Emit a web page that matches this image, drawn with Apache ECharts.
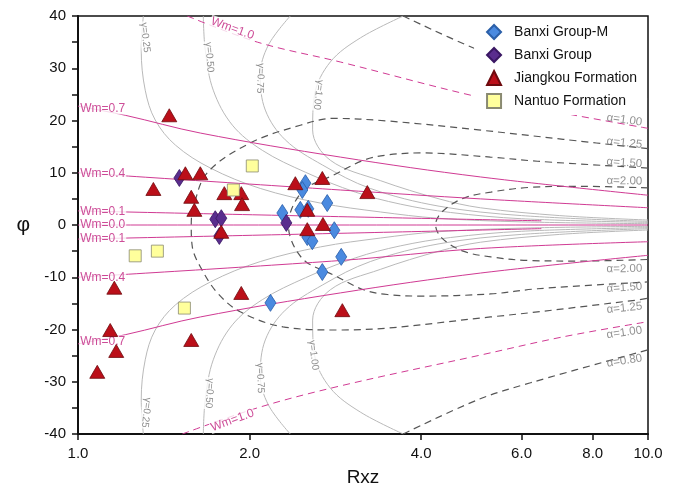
<!DOCTYPE html>
<html><head><meta charset="utf-8">
<script src="https://cdn.jsdelivr.net/npm/echarts@6/dist/echarts.min.js"></script>
<style>html,body{margin:0;padding:0;background:#fff}#c{width:678px;height:492px}</style>
</head><body><div id="c"></div>
<script>
// ---------- tick labels ----------
const xTicks = [1, 2, 4, 6, 8, 10];
const yLabels = [-40, -30, -20, -10, 0, 10, 20, 30, 40];
const yRange = [-40, 40];

// ---------- sample data [Rxz, phi] ----------
const banxiM = [[2.506,8.0],[2.475,6.7],[2.737,4.2],[2.455,2.9],[2.535,3.1],[2.283,2.3],[2.816,-1.0],[2.525,-2.3],[2.577,-3.1],[2.896,-6.1],[2.683,-9.0],[2.176,-14.9]];
const banxi = [[1.506,9.0],[1.741,1.1],[1.784,1.3],[1.770,-2.1],[2.32,0.4]];
const jiangkou = [[1.446,21.0],[1.543,9.9],[1.639,9.9],[1.356,6.9],[1.58,5.4],[1.60,2.9],[1.806,6.1],[1.934,6.1],[1.94,4.0],[1.784,-1.3],[2.406,8.0],[2.683,9.0],[2.525,2.9],[2.525,-0.8],[2.69,0.2],[3.218,6.3],[1.158,-12.0],[1.139,-20.1],[1.167,-24.1],[1.081,-28.1],[1.58,-22.0],[1.934,-13.0],[2.909,-16.3]];
const nantuo = [[2.022,11.3],[1.873,6.7],[1.26,-5.9],[1.378,-5.0],[1.537,-15.9]];

// ---------- reference curves ----------
const wm07Top = [[1,22.75],[1.21,21.0],[1.639,17.6],[2.885,13.0],[5.08,9.2],[10,5.7]];
const wm07Bot = [[1,-22.75],[1.21,-21.0],[1.639,-17.6],[2.885,-13.0],[5.08,-9.2],[10,-5.8]];
const wm04Top = [[1,10.0],[2.885,6.7],[5.08,5.0],[10,3.3]];
const wm04Bot = [[1,-10.0],[2.885,-6.8],[5.08,-4.5],[10,-3.2]];
const wm01Top = [[1,2.7],[2.6,1.7],[6.5,0.8]];
const wm00 = [[1,0],[10,0]];
const wm01Bot = [[1,-2.7],[2.6,-1.7],[6.5,-0.7]];
const wm10Top = [[1.555,40],[2.064,35.0],[2.885,31.2],[5.04,24.5],[7.1,21.4],[10,18.5]];
const wm10Bot = [[1.524,-40],[2.064,-35.0],[2.885,-30.8],[5.08,-24.9],[7.1,-21.4],[10,-18.5]];

const a080Top = [[3.72,40],[5.04,33.5],[6.22,30.3],[10,24.1]];
const a080Bot = [[3.72,-40],[5.04,-33.4],[6.22,-30.2],[10,-23.9]];
const a125 = [[10,14.6],[7.1,16.4],[5.04,18.2],[3.5,19.9],[2.8,20.4],[2.455,19.1],[2.006,15.7],[1.686,10.0],[1.594,3.4],[1.58,0],[1.587,-4.2],[1.639,-8.0],[1.756,-13.0],[1.926,-16.6],[2.29,-19.5],[2.885,-20.1],[5.29,-17.6],[9.67,-14.3],[10,-14.0]];
const a150 = [[10,10.9],[6.4,12.2],[5.29,13.0],[4.0,13.8],[3.49,13.4],[3.17,12.4],[2.8,9.5],[2.53,7.3],[2.43,5.3],[2.36,2.5],[2.34,0],[2.36,-2.5],[2.43,-5.3],[2.53,-7.3],[2.8,-9.5],[3.17,-12.4],[3.49,-13.3],[4.0,-13.6],[5.29,-13.2],[6.4,-12.2],[10,-10.9]];
const a200 = [[10,7.1],[7.6,7.4],[6.2,7.2],[5.3,6.3],[4.74,5.1],[4.35,2.5],[4.24,0],[4.35,-2.5],[4.74,-5.0],[5.3,-6.1],[6.2,-6.8],[7.6,-6.9],[10,-6.6]];

const g025Top = [[1.302,40],[1.291,33.5],[1.312,25.8],[1.366,20.1],[1.482,15.3],[1.707,10.9],[2.088,7.0],[2.661,4.2],[3.391,2.5],[4.27,1.3],[6.0,0.6],[10,0.25]];
const g050Top = [[1.659,40],[1.672,33.5],[1.727,25.8],[1.866,19.1],[2.105,14.3],[2.506,10.1],[3.065,6.3],[3.676,4.0],[4.5,2.4],[6.0,1.2],[10,0.5]];
const g075Top = [[2.357,40],[2.157,34.4],[2.088,28.7],[2.131,22.0],[2.31,16.3],[2.683,11.5],[3.257,7.0],[4.3,3.6],[6.0,1.8],[10,0.7]];
const g100Top = [[3.721,40],[3.128,35.8],[2.771,31.2],[2.60,24.9],[2.58,18.2],[2.771,12.4],[3.391,8.5],[4.3,5.0],[5.08,3.3],[7.0,1.8],[10,0.95]];
const g025Bot = [[1.302,-40],[1.291,-33.5],[1.312,-25.8],[1.366,-20.1],[1.482,-15.3],[1.707,-10.9],[2.088,-7.0],[2.661,-4.2],[3.391,-2.5],[4.27,-1.3],[6.0,-0.6],[10,-0.25]];
const g050Bot = [[1.659,-40],[1.672,-33.5],[1.727,-25.8],[1.866,-19.1],[2.105,-14.3],[2.506,-10.1],[3.065,-6.3],[3.676,-4.0],[4.5,-2.4],[6.0,-1.2],[10,-0.5]];
const g075Bot = [[2.357,-40],[2.157,-34.4],[2.088,-28.7],[2.131,-22.0],[2.31,-16.3],[2.683,-11.5],[3.257,-7.0],[4.3,-3.6],[6.0,-1.8],[10,-0.7]];
const g100Bot = [[3.721,-40],[3.128,-35.8],[2.771,-31.2],[2.60,-24.9],[2.58,-18.2],[2.771,-12.4],[3.391,-8.5],[4.3,-5.0],[5.08,-3.3],[7.0,-1.8],[10,-0.95]];

// ---------- annotation texts ----------
const wmLabels = [
  ['Wm=0.7',[1.105,22.3]],['Wm=0.4',[1.105,9.8]],['Wm=0.1',[1.105,2.6]],['Wm=0.0',[1.105,0]],
  ['Wm=0.1',[1.105,-2.6]],['Wm=0.4',[1.105,-10.0]],['Wm=0.7',[1.105,-22.3]]
];
const wm10Labels = [['Wm=1.0',[1.866,37.6],-20],['Wm=1.0',[1.866,-37.4],20]];
const gammaLabels = [
  ['γ=0.25',[1.312,35.9],-84],['γ=0.50',[1.70,32.1],-86],['γ=0.75',[2.088,28.1],-92],['γ=1.00',[2.64,24.9],-97],
  ['γ=0.25',[1.317,-35.9],-96],['γ=0.50',[1.70,-32.2],-94],['γ=0.75',[2.088,-29.3],-88],['γ=1.00',[2.59,-24.9],-83]
];
const alphaLabels = [
  ['α=1.00',[9.09,20.1],-8],['α=1.25',[9.09,15.7],-6],['α=1.50',[9.09,11.9],-4],['α=2.00',[9.09,8.4],-1],
  ['α=2.00',[9.09,-8.4],1],['α=1.50',[9.09,-12.0],4],['α=1.25',[9.09,-15.9],6],['α=1.00',[9.09,-20.6],8],['α=0.80',[9.09,-26.0],9]
];

const FONT = '"Liberation Sans", Arial, sans-serif';
const PINK = '#d03a93';
const GRAY = '#b9b9b9';
const DASH = '#555555';

function curve(data, color, width, dash, z) {
  return {type:'line', data, smooth:0.35, showSymbol:false, symbol:'none', silent:true, z,
    lineStyle:{color, width, type: dash ? [7,5] : 'solid'}, clip:true};
}
function textSeries(items, style, z) {
  return {type:'scatter', silent:true, z, symbolSize:0, clip:false,
    data: items.map(it => ({value: it[1], label: Object.assign({show:true, position:'inside', formatter: it[0], rotate: it[2] || 0}, style)}))};
}

const series = [];
[g025Top,g050Top,g075Top,g100Top,g025Bot,g050Bot,g075Bot,g100Bot].forEach(d => series.push(curve(d, GRAY, 1, false, 1)));
[a080Top,a080Bot,a125,a150,a200].forEach(d => series.push(curve(d, DASH, 1.2, true, 2)));
[wm10Top,wm10Bot].forEach(d => series.push(curve(d, PINK, 1, true, 3)));
[wm07Top,wm04Top,wm01Top,wm00,wm01Bot,wm04Bot,wm07Bot].forEach(d => series.push(curve(d, PINK, 1, false, 3)));

series.push(textSeries(gammaLabels, {color:'#6f6f6f', fontSize:10, fontFamily:FONT, backgroundColor:'#fff', padding:[0,1]}, 4));
series.push(textSeries(alphaLabels, {color:'#777', fontSize:11.5, fontFamily:FONT}, 4));
series.push(textSeries(wmLabels, {color:'#c0207e', fontSize:12, fontFamily:FONT, backgroundColor:'#fff', padding:[0,1]}, 4));
series.push(textSeries(wm10Labels, {color:'#c0207e', fontSize:12, fontFamily:FONT, backgroundColor:'#fff', padding:[0,1]}, 4));

const markBorder = {borderWidth:0.8, opacity:1};
series.push({type:'scatter', name:'Banxi Group-M', data:banxiM, symbol:'diamond', symbolSize:[11,17], z:10,
  itemStyle:Object.assign({color:'#4a8ae0', borderColor:'#2b5fa8'}, markBorder)});
series.push({type:'scatter', name:'Banxi Group', data:banxi, symbol:'diamond', symbolSize:[11,17], z:10,
  itemStyle:Object.assign({color:'#5a2d8e', borderColor:'#3a1763'}, markBorder)});
series.push({type:'scatter', name:'Jiangkou Formation', data:jiangkou, symbol:'triangle', symbolSize:[15,13], z:10,
  itemStyle:Object.assign({color:'#bb0f19', borderColor:'#6e0a0e'}, markBorder)});
series.push({type:'scatter', name:'Nantuo Formation', data:nantuo, symbol:'rect', symbolSize:[12,12], z:10,
  itemStyle:Object.assign({color:'#ffff9c', borderColor:'#8a8a72'}, markBorder)});

const chart = echarts.init(document.getElementById('c'), null, {renderer:'canvas'});
chart.setOption({
  animation:false,
  backgroundColor:'#fff',
  textStyle:{fontFamily:FONT},
  grid:{left:78, right:30, top:16, bottom:58, show:true, borderColor:'#111', borderWidth:1.5, backgroundColor:'transparent'},
  legend:{
    data:['Banxi Group-M','Banxi Group','Jiangkou Formation','Nantuo Formation'],
    orient:'vertical', right:31, top:19, itemWidth:14, itemHeight:14, itemGap:7,
    backgroundColor:'#fff', padding:[5,10,6,12], z:20,
    textStyle:{fontSize:14, color:'#111', fontFamily:FONT, padding:[0,0,0,8]}
  },
  xAxis:{
    type:'log', logBase:10, min:xTicks[0], max:xTicks[xTicks.length-1],
    name:'Rxz', nameLocation:'middle', nameGap:34,
    nameTextStyle:{fontSize:19, color:'#111', fontFamily:FONT},
    axisLine:{onZero:false, lineStyle:{color:'#111', width:2}},
    axisTick:{show:true, length:6, customValues:xTicks, lineStyle:{color:'#111', width:1.5}},
    axisLabel:{customValues:xTicks, formatter:v => Number(v).toFixed(1), fontSize:15, color:'#111', margin:12, fontFamily:FONT},
    splitLine:{show:false}, minorTick:{show:false}
  },
  yAxis:{
    type:'value', min:yRange[0], max:yRange[1], interval:5,
    name:'φ', nameLocation:'middle', nameRotate:0, nameGap:48,
    nameTextStyle:{fontSize:21, color:'#111', fontFamily:FONT},
    axisLine:{onZero:false, lineStyle:{color:'#111', width:2}},
    axisTick:{show:true, length:6, lineStyle:{color:'#111', width:1.5}},
    axisLabel:{customValues:yLabels, fontSize:15, color:'#111', margin:12, fontFamily:FONT},
    splitLine:{show:false}
  },
  series
});
</script></body></html>
